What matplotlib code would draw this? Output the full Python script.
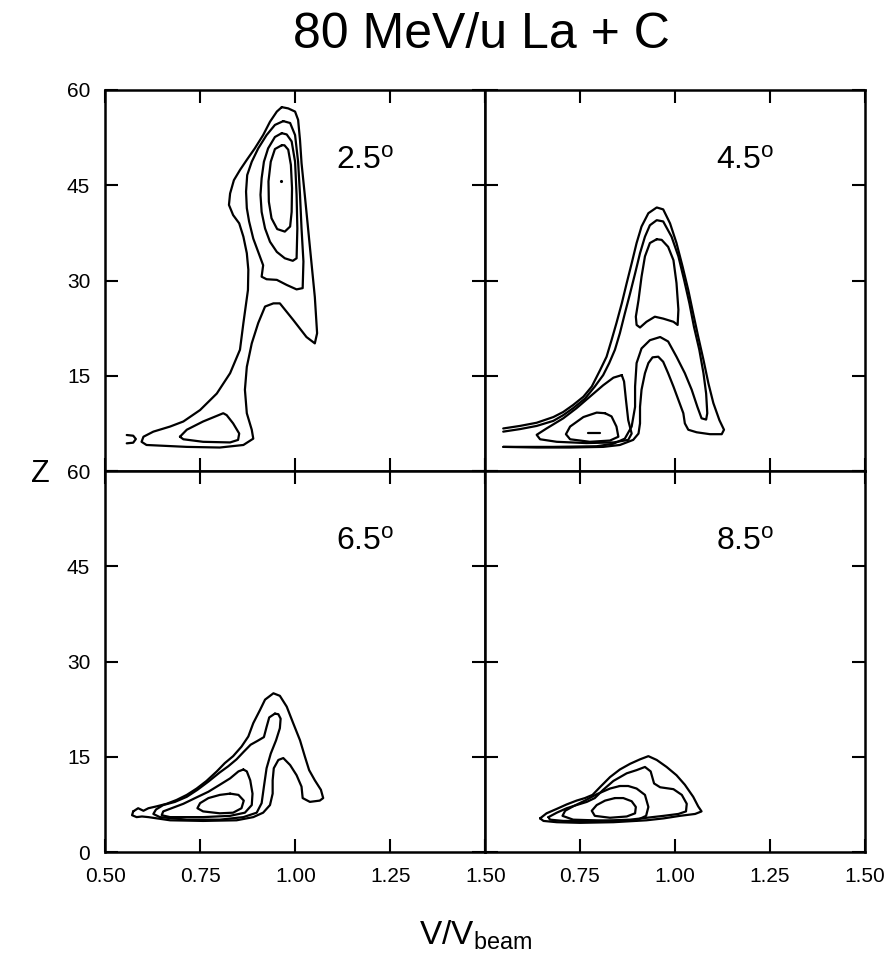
import matplotlib
matplotlib.use("Agg")
import matplotlib.pyplot as plt

plt.rcParams['font.family'] = ['Liberation Sans', 'DejaVu Sans']
plt.rcParams['mathtext.fontset'] = 'custom'
plt.rcParams['mathtext.rm'] = 'Liberation Sans'
plt.rcParams['mathtext.it'] = 'Liberation Sans'
plt.rcParams['xtick.labelsize'] = 15
plt.rcParams['ytick.labelsize'] = 15

# contour lines, (V/Vbeam, Z)
# --- 2.5 deg ---
tl_outer = [(0.964, 57.3), (0.951, 56.6), (0.933, 55.0), (0.915, 52.9), (0.893, 50.8),
            (0.872, 49.0), (0.854, 47.4), (0.838, 45.8), (0.828, 43.7), (0.825, 41.9),
            (0.836, 40.3), (0.852, 39.0), (0.863, 36.9), (0.872, 34.3), (0.876, 31.7),
            (0.875, 28.5), (0.863, 23.3), (0.854, 19.1), (0.828, 15.4), (0.793, 12.2),
            (0.749, 9.6), (0.705, 7.8), (0.670, 7.0), (0.626, 6.2), (0.600, 5.4),
            (0.595, 4.6), (0.608, 4.1), (0.714, 3.8), (0.801, 3.7), (0.863, 4.1),
            (0.889, 5.1), (0.885, 6.5), (0.872, 9.1), (0.867, 12.8), (0.872, 16.4),
            (0.885, 20.1), (0.902, 23.3), (0.920, 25.9), (0.942, 26.4), (0.959, 26.4),
            (0.994, 23.8), (1.029, 21.1), (1.051, 20.1), (1.057, 21.7), (1.051, 27.4),
            (1.038, 35.3), (1.025, 43.2), (1.016, 48.5), (1.012, 52.1), (1.007, 55.3),
            (0.999, 56.6), (0.981, 57.1)]
tl_second = [(0.968, 55.1), (0.946, 54.5), (0.924, 52.9), (0.902, 50.8), (0.885, 48.7),
             (0.873, 46.6), (0.870, 44.0), (0.872, 41.4), (0.878, 39.3), (0.889, 36.6),
             (0.902, 34.5), (0.915, 32.4), (0.911, 30.6), (0.924, 30.2), (0.951, 30.1),
             (0.977, 29.3), (1.003, 28.6), (1.019, 28.8), (1.021, 33.0), (1.016, 38.2),
             (1.012, 43.5), (1.007, 48.7), (0.999, 52.9), (0.986, 54.8)]
tl_third = [(0.964, 53.2), (0.946, 52.6), (0.928, 50.8), (0.917, 48.7), (0.911, 46.1),
            (0.908, 43.5), (0.911, 40.8), (0.920, 38.2), (0.933, 36.1), (0.951, 34.5),
            (0.972, 33.5), (0.993, 33.1), (1.003, 33.5), (1.005, 38.2), (1.003, 43.5),
            (0.999, 48.7), (0.990, 51.9), (0.977, 53.0)]
tl_inner = [(0.964, 51.3), (0.946, 50.7), (0.935, 48.7), (0.929, 45.6), (0.930, 42.4),
            (0.937, 39.8), (0.952, 38.1), (0.972, 37.7), (0.986, 38.5), (0.990, 40.8),
            (0.991, 44.5), (0.988, 48.2), (0.981, 50.6), (0.971, 51.3)]
tl_foot = [(0.696, 5.4), (0.714, 6.5), (0.757, 7.8), (0.810, 9.1), (0.819, 8.8),
           (0.836, 7.5), (0.852, 5.9), (0.849, 4.9), (0.828, 4.5), (0.757, 4.6),
           (0.705, 5.0)]
tl_tip = [(0.556, 5.67), (0.573, 5.56), (0.580, 5.04), (0.573, 4.46), (0.556, 4.36)]
tl_peak = (0.962, 45.6)

# --- 4.5 deg ---
tr_a = [(0.548, 6.7), (0.592, 7.1), (0.636, 7.6), (0.680, 8.5), (0.706, 9.3),
        (0.732, 10.4), (0.759, 11.7), (0.781, 13.3), (0.803, 15.9), (0.820, 18.0),
        (0.833, 20.6), (0.846, 23.3), (0.860, 26.4), (0.873, 29.6), (0.886, 32.7),
        (0.899, 35.9), (0.912, 38.5), (0.930, 40.6), (0.952, 41.5), (0.969, 41.2),
        (0.987, 39.0), (1.004, 35.9), (1.020, 32.2), (1.035, 28.5), (1.048, 24.8),
        (1.061, 21.2), (1.075, 17.5), (1.088, 13.8), (1.101, 10.7), (1.117, 8.0),
        (1.129, 6.5), (1.123, 5.8), (1.092, 5.8), (1.057, 6.1), (1.035, 6.5),
        (1.026, 7.5), (1.022, 9.1), (1.009, 11.2), (0.996, 13.3), (0.982, 15.4),
        (0.969, 17.2), (0.956, 18.0), (0.941, 17.9), (0.930, 17.0), (0.921, 15.4),
        (0.912, 12.8), (0.908, 10.1), (0.908, 7.5), (0.904, 5.9), (0.890, 4.9),
        (0.855, 4.1), (0.811, 3.8), (0.724, 3.7), (0.636, 3.7), (0.548, 3.8)]
tr_b = [(0.548, 6.2), (0.592, 6.6), (0.636, 7.1), (0.680, 7.9), (0.706, 8.8),
        (0.732, 9.9), (0.763, 11.4), (0.789, 13.3), (0.811, 15.1), (0.827, 17.0),
        (0.842, 19.1), (0.855, 21.7), (0.868, 24.8), (0.882, 28.0), (0.895, 31.1),
        (0.908, 34.3), (0.921, 36.9), (0.934, 38.7), (0.952, 39.5), (0.969, 39.3),
        (0.991, 36.9), (1.009, 33.8), (1.024, 30.1), (1.038, 26.4), (1.050, 22.7),
        (1.064, 19.1), (1.075, 15.4), (1.082, 12.2), (1.085, 9.1), (1.082, 8.1),
        (1.070, 8.3), (1.059, 10.1), (1.044, 12.8), (1.026, 15.4), (1.004, 18.0),
        (0.982, 20.4), (0.961, 21.1), (0.934, 20.6), (0.912, 19.3), (0.899, 17.0),
        (0.895, 13.3), (0.895, 10.1), (0.886, 7.0), (0.868, 5.1), (0.838, 4.3),
        (0.794, 3.9), (0.680, 3.8), (0.548, 3.8)]
tr_c = [(0.952, 36.5), (0.934, 35.9), (0.921, 33.8), (0.912, 30.6), (0.904, 26.9),
        (0.897, 24.3), (0.899, 23.0), (0.908, 22.6), (0.925, 23.5), (0.947, 24.3),
        (0.969, 24.0), (0.996, 23.5), (1.007, 23.0), (1.009, 25.4), (1.004, 29.6),
        (0.996, 33.2), (0.982, 35.3), (0.965, 36.4)]
tr_d = [(0.860, 15.1), (0.838, 14.7), (0.811, 13.5), (0.776, 11.7), (0.741, 9.9),
        (0.706, 8.3), (0.662, 6.7), (0.636, 5.7), (0.645, 5.0), (0.689, 4.6),
        (0.767, 4.4), (0.838, 4.5), (0.877, 4.9), (0.886, 5.9), (0.877, 8.0),
        (0.871, 11.2), (0.866, 14.1)]
tr_e = [(0.816, 9.1), (0.794, 9.2), (0.759, 8.5), (0.724, 7.0), (0.713, 5.8),
        (0.724, 5.0), (0.776, 4.6), (0.829, 4.8), (0.851, 5.4), (0.846, 7.0),
        (0.833, 8.6)]
tr_dash = [(0.772, 6.0), (0.803, 6.0)]

# --- 6.5 deg ---
bl_outer = [(0.573, 6.4), (0.586, 6.9), (0.600, 6.5), (0.613, 6.9), (0.635, 7.2),
            (0.661, 7.6), (0.687, 8.2), (0.714, 9.0), (0.740, 10.0), (0.766, 11.2),
            (0.793, 12.7), (0.814, 14.0), (0.836, 15.1), (0.858, 16.6), (0.876, 18.2),
            (0.889, 20.3), (0.907, 22.4), (0.920, 24.0), (0.942, 25.0), (0.959, 24.6),
            (0.977, 22.9), (0.994, 20.3), (1.012, 17.6), (1.025, 15.0), (1.036, 12.9),
            (1.051, 11.3), (1.067, 9.8), (1.073, 8.5), (1.064, 8.1), (1.038, 7.9),
            (1.019, 8.5), (1.016, 10.3), (1.003, 12.1), (0.986, 13.7), (0.968, 14.8),
            (0.955, 14.5), (0.943, 13.2), (0.940, 11.3), (0.940, 9.2), (0.933, 7.4),
            (0.915, 6.2), (0.889, 5.5), (0.845, 5.0), (0.757, 4.9), (0.670, 5.0),
            (0.613, 5.5), (0.596, 5.6), (0.582, 5.5), (0.570, 5.8)]
bl_second = [(0.946, 21.8), (0.931, 21.2), (0.924, 19.7), (0.917, 18.1), (0.900, 17.5),
             (0.882, 16.9), (0.864, 15.8), (0.845, 14.6), (0.823, 13.5), (0.800, 12.5),
             (0.771, 11.1), (0.742, 9.8), (0.714, 8.7), (0.683, 7.9), (0.652, 7.4),
             (0.633, 6.7), (0.626, 6.0), (0.643, 5.5), (0.714, 5.1), (0.801, 5.1),
             (0.863, 5.5), (0.898, 6.2), (0.911, 7.7), (0.917, 10.3), (0.924, 13.2),
             (0.935, 15.5), (0.949, 17.6), (0.959, 19.5), (0.961, 21.0), (0.955, 21.7)]
bl_third = [(0.863, 13.0), (0.850, 12.7), (0.828, 11.6), (0.801, 10.6), (0.771, 9.5),
            (0.736, 8.5), (0.705, 7.6), (0.674, 6.9), (0.652, 6.4), (0.648, 5.8),
            (0.670, 5.5), (0.757, 5.5), (0.828, 5.7), (0.867, 6.2), (0.885, 7.4),
            (0.887, 9.2), (0.881, 11.3), (0.872, 12.7)]
bl_inner = [(0.828, 9.2), (0.801, 9.0), (0.771, 8.5), (0.749, 7.7), (0.742, 6.9),
            (0.757, 6.4), (0.801, 6.1), (0.836, 6.2), (0.858, 6.9), (0.864, 8.1),
            (0.850, 9.0)]

# --- 8.5 deg ---
br_outer = [(0.645, 5.3), (0.662, 6.1), (0.689, 6.8), (0.715, 7.5), (0.741, 8.1),
            (0.763, 8.5), (0.783, 9.0), (0.804, 10.3), (0.829, 11.8), (0.855, 13.0),
            (0.882, 13.9), (0.908, 14.6), (0.930, 15.1), (0.952, 14.5), (0.978, 13.4),
            (1.004, 12.1), (1.026, 10.6), (1.048, 8.7), (1.061, 7.2), (1.070, 6.4),
            (1.053, 6.0), (1.013, 5.7), (0.970, 5.3), (0.925, 5.0), (0.838, 4.7),
            (0.750, 4.6), (0.689, 4.7), (0.654, 4.9)]
br_second = [(0.667, 5.5), (0.689, 6.2), (0.715, 6.9), (0.741, 7.4), (0.768, 7.9),
             (0.789, 8.5), (0.811, 9.8), (0.838, 11.2), (0.873, 12.4), (0.899, 12.9),
             (0.921, 13.4), (0.936, 12.7), (0.945, 10.8), (0.961, 10.2), (0.996, 9.9),
             (1.018, 9.0), (1.031, 7.6), (1.029, 6.4), (1.009, 6.0), (0.970, 5.7),
             (0.882, 5.1), (0.794, 4.9), (0.706, 4.9), (0.671, 5.1)]
br_third = [(0.855, 10.4), (0.829, 10.0), (0.794, 9.1), (0.763, 8.1), (0.732, 7.2),
            (0.711, 6.5), (0.704, 5.7), (0.732, 5.1), (0.838, 4.9), (0.899, 5.0),
            (0.924, 5.7), (0.930, 7.1), (0.921, 9.0), (0.899, 10.0), (0.877, 10.4)]
br_inner = [(0.842, 8.5), (0.816, 8.1), (0.794, 7.4), (0.781, 6.5), (0.789, 5.7),
            (0.829, 5.4), (0.873, 5.6), (0.895, 6.1), (0.897, 7.1), (0.886, 8.0),
            (0.864, 8.5)]

angles = ['2.5', '4.5', '6.5', '8.5']
x_ticks = [0.5, 0.75, 1.0, 1.25, 1.5]
z_ticks = [0, 15, 30, 45, 60]


def draw(ax, pts, closed=True):
    xs = [p[0] for p in pts]
    zs = [p[1] for p in pts]
    if closed:
        xs.append(xs[0])
        zs.append(zs[0])
    ax.plot(xs, zs, color='black', lw=1.6, solid_joinstyle='round',
            solid_capstyle='round')


fig = plt.figure(figsize=(8.93, 9.76), dpi=100)
w = 0.4255
h = 0.3904
ax_tl = fig.add_axes([0.1181, 0.5174, w, h])
ax_tr = fig.add_axes([0.5431, 0.5174, w, h])
ax_bl = fig.add_axes([0.1181, 0.1270, w, h])
ax_br = fig.add_axes([0.5431, 0.1270, w, h])
axes = [ax_tl, ax_tr, ax_bl, ax_br]

for ax in axes:
    ax.set_xlim(0.5, 1.5)
    ax.set_ylim(0, 60)
    ax.set_xticks(x_ticks)
    ax.set_yticks(z_ticks)
    ax.tick_params(direction='in', length=9.5, width=1.5, top=True, right=True, pad=11)
    for s in ax.spines.values():
        s.set_linewidth(1.8)

for ax in [ax_tl, ax_tr]:
    ax.set_xticklabels([])
for ax in [ax_tr, ax_br]:
    ax.set_yticklabels([])
ax_tl.set_yticklabels(['', '15', '30', '45', '60'], fontsize=15)
ax_bl.set_yticklabels(['0', '15', '30', '45', '60'], fontsize=15)
ax_bl.set_xticklabels(['0.50', '0.75', '1.00', '1.25', '1.50'], fontsize=15)
ax_br.set_xticklabels(['', '0.75', '1.00', '1.25', '1.50'], fontsize=15)

# 2.5
for c in [tl_outer, tl_second, tl_third, tl_inner, tl_foot]:
    draw(ax_tl, c)
draw(ax_tl, tl_tip, closed=False)
ax_tl.plot([tl_peak[0]], [tl_peak[1]], 'k.', ms=2.5)
# 4.5
draw(ax_tr, tr_a, closed=False)
draw(ax_tr, tr_b, closed=False)
for c in [tr_c, tr_d, tr_e]:
    draw(ax_tr, c)
draw(ax_tr, tr_dash, closed=False)
# 6.5
for c in [bl_outer, bl_second, bl_third, bl_inner]:
    draw(ax_bl, c)
# 8.5
for c in [br_outer, br_second, br_third, br_inner]:
    draw(ax_br, c)

for ax, a in zip(axes, angles):
    ax.text(1.107, 47.6, a + r'$^{\mathrm{o}}$', fontsize=23, ha='left', va='baseline')

fig.text(481 / 893, 1 - 35 / 976, '80 MeV/u La + C', fontsize=36, ha='center', va='center')
fig.text(40 / 893, 1 - 474 / 976, 'Z', fontsize=22, ha='center', va='center')
fig.text(475 / 893, 1 - 935 / 976, r'V/V$_{\mathrm{beam}}$', fontsize=24, ha='center', va='center')

fig.savefig('out.png', dpi=100)
